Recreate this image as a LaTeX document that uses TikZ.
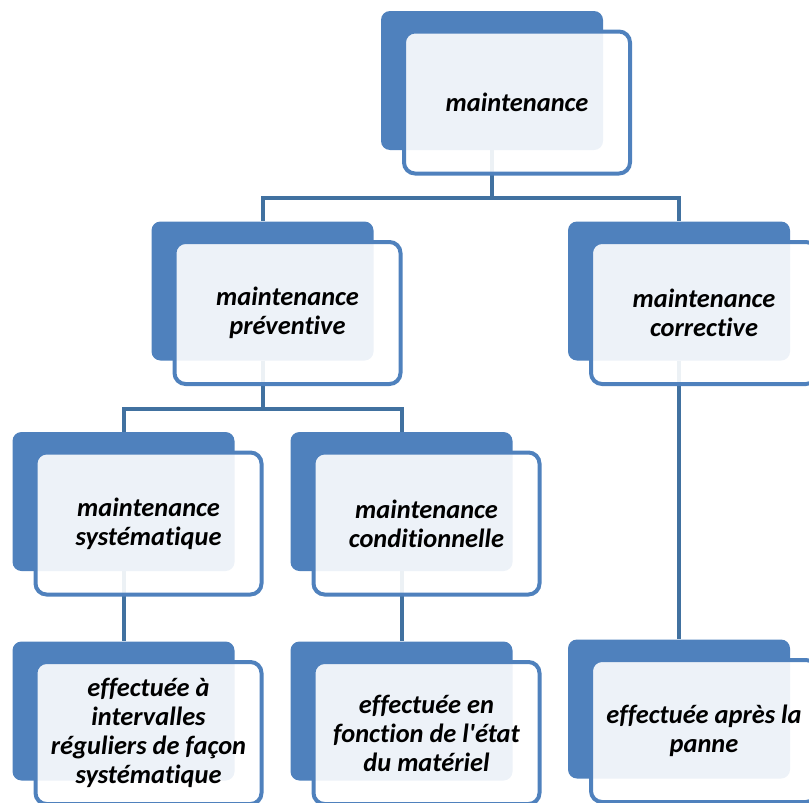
\documentclass[tikz,border=0pt]{standalone}
\usepackage{fontspec}
\setmainfont[Ligatures={TeXOff,NoCommon}]{Carlito}
\definecolor{boxblue}{RGB}{79,129,189}
\definecolor{linkblue}{RGB}{65,113,160}

\begin{document}
\begin{tikzpicture}[x=1pt,y=-1pt,
  back node/.style={rectangle,rounded corners=9pt,fill=boxblue,minimum width=222pt,minimum height=139pt,inner sep=0pt},
  front node/.style={rectangle,rounded corners=11pt,draw=boxblue,line width=4pt,fill=white,fill opacity=0.9,text opacity=1,
    minimum width=226pt,minimum height=142pt,inner sep=0pt,align=center,font=\fontsize{26.4}{29}\selectfont\bfseries\itshape},
  link/.style={draw=linkblue,line width=4pt}]

  \useasboundingbox (0,0) rectangle (809,803);

  \node[back node] (0) at (492,80.5) {};
  \node[back node] (1) at (262.5,291) {};
  \node[back node] (2) at (679,291) {};
  \node[back node] (3) at (123.5,501.5) {};
  \node[back node] (4) at (401.5,501.5) {};
  \node[back node] (5) at (123.5,711) {};
  \node[back node] (6) at (401.5,711) {};
  \node[back node] (7) at (679,709) {};

  \path[link] (0.south) -- ++(0,48) -| (1.north);
  \path[link] (0.south) -- ++(0,48) -| (2.north);
  \path[link] (1.south) -- ++(0,48) -| (3.north);
  \path[link] (1.south) -- ++(0,48) -| (4.north);
  \path[link] (3.south) -- (5.north);
  \path[link] (4.south) -- (6.north);
  \path[link] (2.south) -- (7.north);

  \node[front node] (0t) at (517,102.5) {maintenance};
  \node[front node] (1t) at (287.5,313) {maintenance\\préventive};
  \node[front node] (2t) at (704,313) {maintenance\\corrective};
  \node[front node] (3t) at (148.5,523.5) {maintenance\\systématique};
  \node[front node] (4t) at (426.5,523.5) {maintenance\\conditionnelle};
  \node[front node] (5t) at (148.5,733) {effectuée à\\intervalles\\réguliers de façon\\systématique};
  \node[front node] (6t) at (426.5,733) {effectuée en\\fonction de l'état\\du matériel};
  \node[front node] (7t) at (704,731) {effectuée après la\\panne};
\end{tikzpicture}
\end{document}
